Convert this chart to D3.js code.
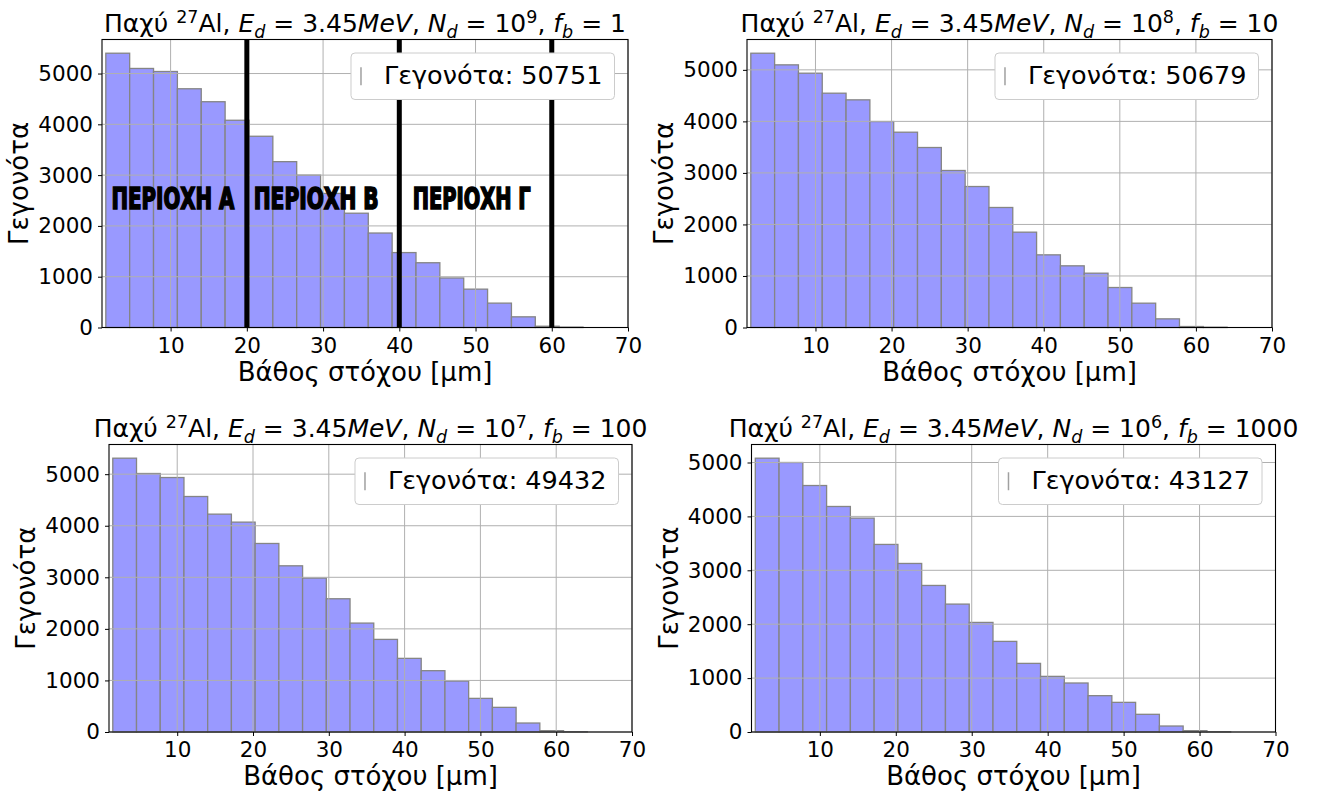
<!DOCTYPE html>
<html>
<head>
<meta charset="utf-8">
<script src="https://cdn.jsdelivr.net/npm/d3@7"></script>
<style>
  body { margin: 0; background: #fff; }
  svg { display: block; font-family: "DejaVu Sans", sans-serif; }
</style>
</head>
<body>
<svg></svg>
<script>
// Declare Variables
let binEdges = [1.5, 4.63, 7.76, 10.89, 14.02, 17.15, 20.28, 23.41, 26.54, 29.67, 32.8,
  35.93, 39.06, 42.19, 45.32, 48.45, 51.58, 54.71, 57.84, 60.97, 64.1];

let countsNd9 = [5400, 5100, 5040, 4700, 4445, 4080, 3765, 3265, 3000, 2640,
  2250, 1860, 1475, 1275, 975, 755, 480, 210, 25, 8];
let countsNd8 = [5323, 5097, 4935, 4547, 4418, 3997, 3790, 3493, 3047, 2736,
  2329, 1850, 1410, 1197, 1054, 776, 472, 168, 19, 6];
let countsNd7 = [5310, 5013, 4935, 4567, 4225, 4070, 3656, 3223, 2985, 2584,
  2112, 1796, 1428, 1189, 988, 652, 478, 174, 26, 6];
let countsNd6 = [5080, 5000, 4573, 4184, 3968, 3480, 3127, 2719, 2373, 2033,
  1681, 1273, 1032, 909, 674, 550, 328, 111, 25, 6];

let exponents = ["9", "8", "7", "6"];
let fbValues = ["1", "10", "100", "1000"];
let eventTotals = [50751, 50679, 49432, 43127];

let xTicks = [10, 20, 30, 40, 50, 60, 70];
let yTicks = [0, 1000, 2000, 3000, 4000, 5000];

let regionBounds = [20, 40, 60];
let regionNames = ["ΠΕΡΙΟΧΗ Α", "ΠΕΡΙΟΧΗ Β", "ΠΕΡΙΟΧΗ Γ"];

let width = 1317;
let height = 794;

// plot frames, in pixels
let frames = [
  { left: 102, top: 39.5, w: 526, h: 288 },
  { left: 747, top: 39.5, w: 525, h: 288 },
  { left: 109, top: 444.5, w: 523, h: 287.5 },
  { left: 751.5, top: 444.5, w: 524, h: 287.5 },
];

// where the region labels sit (data units) and how wide they are drawn
let regionLabelX = [10.3, 29.1, 49.5];
let regionLabelY = 2330;
let regionLabelWidth = [123, 125, 118];

let barFill = "#9999ff";
let barEdge = "#858585";
let gridColor = "#b0b0b0";

let svg = d3.select("svg");

// Declare Functions
let drawCanvas = () => {
  svg.attr("width", width);
  svg.attr("height", height);
};

let drawTitle = (g, f, i) => {
  let segs = [
    ["Παχύ ", ""], ["27", "sup"], ["Al, ", ""],
    ["E", "it"], ["d", "sub"], [" = 3.45", ""], ["MeV", "it"], [", ", ""],
    ["N", "it"], ["d", "sub"], [" = 10", ""], [exponents[i], "sup"], [", ", ""],
    ["f", "it"], ["b", "sub"], [" = " + fbValues[i], ""],
  ];
  let title = g.append("text")
    .attr("x", f.w / 2)
    .attr("y", -7.5)
    .attr("text-anchor", "middle")
    .attr("font-size", 25)
    .attr("fill", "#000");
  let offset = 0;
  segs.forEach(([t, kind]) => {
    let target = kind === "sup" ? -9 : kind === "sub" ? 6 : 0;
    title.append("tspan")
      .attr("dy", target - offset)
      .attr("font-size", kind === "sup" || kind === "sub" ? 17.5 : 25)
      .attr("font-style", kind === "it" || kind === "sub" ? "italic" : "normal")
      .text(t);
    offset = target;
  });
};

let drawPanel = (counts, i) => {
  let f = frames[i];
  let g = svg.append("g").attr("transform", "translate(" + f.left + "," + f.top + ")");

  let xScale = d3.scaleLinear().domain([1, 70]).range([0, f.w]);
  let yScale = d3.scaleLinear().domain([0, d3.max(counts) * 1.05]).range([f.h, 0]);

  let bins = counts.map((c, k) => ({ x0: binEdges[k], x1: binEdges[k + 1], count: c }));

  // bars
  g.selectAll("rect.bar")
    .data(bins)
    .enter()
    .append("rect")
    .attr("class", "bar")
    .attr("x", (d) => xScale(d.x0))
    .attr("y", (d) => yScale(d.count))
    .attr("width", (d) => xScale(d.x1) - xScale(d.x0))
    .attr("height", (d) => f.h - yScale(d.count))
    .attr("fill", barFill)
    .attr("stroke", barEdge)
    .attr("stroke-width", 1.3);

  // grid
  g.selectAll("line.vgrid")
    .data(xTicks)
    .enter()
    .append("line")
    .attr("x1", (d) => xScale(d))
    .attr("x2", (d) => xScale(d))
    .attr("y1", 0)
    .attr("y2", f.h)
    .attr("stroke", gridColor)
    .attr("stroke-width", 1);
  g.selectAll("line.hgrid")
    .data(yTicks)
    .enter()
    .append("line")
    .attr("x1", 0)
    .attr("x2", f.w)
    .attr("y1", (d) => yScale(d))
    .attr("y2", (d) => yScale(d))
    .attr("stroke", gridColor)
    .attr("stroke-width", 1);

  // region markers only on the first panel
  if (i === 0) {
    g.selectAll("line.region")
      .data(regionBounds)
      .enter()
      .append("line")
      .attr("x1", (d) => xScale(d))
      .attr("x2", (d) => xScale(d))
      .attr("y1", 0)
      .attr("y2", f.h)
      .attr("stroke", "#000")
      .attr("stroke-width", 5);
    // tall, heavy lettering, stretched vertically
    g.selectAll("text.region")
      .data(regionNames)
      .enter()
      .append("text")
      .attr("transform", (d, k) =>
        "translate(" + (xScale(regionLabelX[k]) - regionLabelWidth[k] / 2) + "," + yScale(regionLabelY) + ") scale(1,1.2)")
      .attr("textLength", (d, k) => regionLabelWidth[k])
      .attr("lengthAdjust", "spacingAndGlyphs")
      .attr("font-family", "'Liberation Sans Narrow', 'DejaVu Sans Condensed', 'DejaVu Sans', sans-serif")
      .attr("font-weight", "bold")
      .attr("font-size", 24.5)
      .attr("fill", "#000")
      .attr("stroke", "#000")
      .attr("stroke-width", 1.3)
      .text((d) => d);
  }

  // axes
  let xAxis = d3.axisBottom(xScale).tickValues(xTicks).tickSize(4).tickPadding(6);
  let yAxis = d3.axisLeft(yScale).tickValues(yTicks).tickFormat(d3.format("d")).tickSize(4).tickPadding(5);
  let gx = g.append("g").attr("transform", "translate(0," + f.h + ")").call(xAxis);
  let gy = g.append("g").call(yAxis);
  [gx, gy].forEach((a) => {
    a.select(".domain").remove();
    a.selectAll("text").attr("font-size", 21.5).attr("font-family", "DejaVu Sans").attr("fill", "#000");
    a.selectAll("line").attr("stroke", "#000");
  });

  // frame
  g.append("rect")
    .attr("width", f.w)
    .attr("height", f.h)
    .attr("fill", "none")
    .attr("stroke", "#000")
    .attr("stroke-width", 1.1);

  // legend
  let lg = g.append("g");
  let label = lg.append("text")
    .attr("font-size", 25.5)
    .attr("fill", "#000")
    .text("Γεγονότα: " + eventTotals[i]);
  let tw = label.node().getComputedTextLength();
  let boxW = tw + 45;
  let boxH = 46.5;
  let bx = f.w - 13.5 - boxW;
  let by = 13.5;
  lg.insert("rect", "text")
    .attr("x", bx)
    .attr("y", by)
    .attr("width", boxW)
    .attr("height", boxH)
    .attr("rx", 4)
    .attr("fill", "#fff")
    .attr("stroke", "#cccccc")
    .attr("stroke-width", 1);
  lg.append("line")
    .attr("x1", bx + 10)
    .attr("x2", bx + 10)
    .attr("y1", by + boxH / 2 - 9)
    .attr("y2", by + boxH / 2 + 9)
    .attr("stroke", "#a0a0a0")
    .attr("stroke-width", 1.5);
  label.attr("x", bx + 33).attr("y", by + 31);

  drawTitle(g, f, i);

  // axis labels
  g.append("text")
    .attr("x", f.w / 2)
    .attr("y", f.h + 53)
    .attr("text-anchor", "middle")
    .attr("font-size", 26)
    .attr("fill", "#000")
    .text("Βάθος στόχου [μm]");
  g.append("text")
    .attr("transform", "translate(-74," + f.h / 2 + ") rotate(-90)")
    .attr("text-anchor", "middle")
    .attr("font-size", 26)
    .attr("fill", "#000")
    .text("Γεγονότα");
};

drawCanvas();
[countsNd9, countsNd8, countsNd7, countsNd6].forEach((counts, i) => drawPanel(counts, i));
</script>
</body>
</html>
